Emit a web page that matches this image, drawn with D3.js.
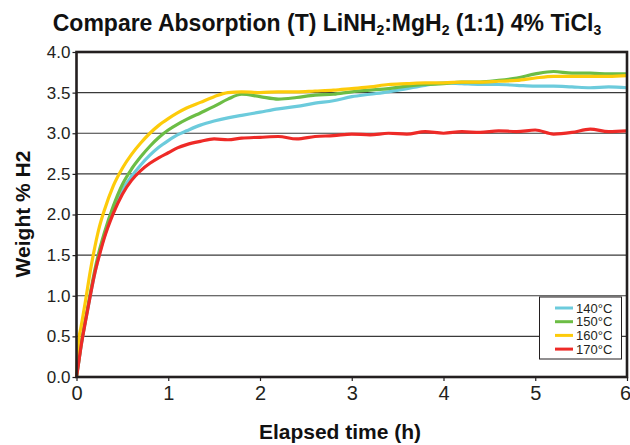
<!DOCTYPE html>
<html>
<head>
<meta charset="utf-8">
<script src="https://cdn.jsdelivr.net/npm/d3@7"></script>
<style>
  body { margin: 0; background: #fff; }
  text { font-family: 'Liberation Sans', Arial, sans-serif; }
</style>
</head>
<body>
<div id="chart"></div>
<script>
// elapsed time (h), shared by all runs
let hours = [0, 0.02, 0.05, 0.1, 0.15, 0.2, 0.25, 0.3, 0.4, 0.5, 0.6, 0.7, 0.8, 0.9, 1.0, 1.1, 1.2, 1.35, 1.5, 1.65, 1.8,
    2.0, 2.2, 2.4, 2.6, 2.8, 3.0, 3.2, 3.4, 3.6, 3.8, 4.0, 4.2, 4.4, 4.6, 4.8, 5.0, 5.2, 5.4, 5.6, 5.8, 6.0]

// weight % H2
let abs140 = [0, 0.15, 0.38, 0.7, 1.0, 1.28, 1.52, 1.72, 2.04, 2.3, 2.47, 2.61, 2.73, 2.83, 2.91, 2.98, 3.03, 3.1, 3.15, 3.19, 3.22,
    3.26, 3.3, 3.33, 3.37, 3.4, 3.45, 3.48, 3.51, 3.55, 3.59, 3.62, 3.61, 3.6, 3.6, 3.59, 3.58, 3.58, 3.57, 3.56, 3.57, 3.56]
let abs150 = [0, 0.16, 0.4, 0.72, 1.03, 1.32, 1.56, 1.76, 2.1, 2.37, 2.56, 2.71, 2.84, 2.95, 3.04, 3.11, 3.17, 3.25, 3.33, 3.42, 3.48,
    3.45, 3.42, 3.44, 3.47, 3.48, 3.51, 3.53, 3.55, 3.58, 3.6, 3.61, 3.63, 3.63, 3.65, 3.68, 3.73, 3.76, 3.74, 3.74, 3.73, 3.73]
let abs160 = [0, 0.42, 0.62, 0.95, 1.3, 1.6, 1.85, 2.04, 2.35, 2.57, 2.74, 2.88, 3.0, 3.1, 3.18, 3.25, 3.31, 3.38, 3.45, 3.5, 3.51,
    3.5, 3.51, 3.51, 3.52, 3.53, 3.55, 3.57, 3.6, 3.61, 3.62, 3.62, 3.63, 3.63, 3.64, 3.65, 3.68, 3.7, 3.7, 3.7, 3.7, 3.71]
let abs170 = [0, 0.15, 0.38, 0.7, 1.0, 1.28, 1.5, 1.7, 2.01, 2.25, 2.42, 2.54, 2.63, 2.7, 2.76, 2.82, 2.86, 2.9, 2.93, 2.92, 2.94,
    2.95, 2.96, 2.93, 2.96, 2.97, 2.99, 2.98, 3.0, 2.99, 3.02, 3.0, 3.02, 3.01, 3.03, 3.02, 3.04, 2.99, 3.01, 3.05, 3.02, 3.03]

let seriesNames = ['140°C', '150°C', '160°C', '170°C']
let seriesColors = ['#6ccbdc', '#6cbd45', '#fdcb0a', '#ee2a27']
let seriesValues = [abs140, abs150, abs160, abs170]

let yTicks = [0, 0.5, 1.0, 1.5, 2.0, 2.5, 3.0, 3.5, 4.0]
let xTicks = [0, 1, 2, 3, 4, 5, 6]

let width = 630,
    height = 445,
    margin = {
        top: 52,
        right: 3,
        bottom: 68,
        left: 76.5
    }

let svg = d3.select('#chart').append('svg')
    .attr('width', width)
    .attr('height', height)

let x = d3.scaleLinear()
    .domain([0, 6])
    .range([margin.left, width - margin.right])

let y = d3.scaleLinear()
    .domain([0, 4])
    .range([height - margin.bottom, margin.top])

// gridlines
svg.append('g')
    .attr('class', 'grid')
    .selectAll('line')
    .data(yTicks.slice(1, -1))
    .enter().append('line')
    .attr('x1', x(0))
    .attr('x2', x(6))
    .attr('y1', d => y(d))
    .attr('y2', d => y(d))
    .attr('stroke', '#3a3a3a')
    .attr('stroke-width', 1.2)

// legend box sits under the curves but over the grid
let legend = svg.append('g').attr('class', 'legend')
legend.append('rect')
    .attr('x', 539.5)
    .attr('y', 297)
    .attr('width', 82)
    .attr('height', 62)
    .attr('fill', '#fff')
    .attr('stroke', '#231f20')
    .attr('stroke-width', 1)

let line = d3.line()
    .x(d => x(d[0]))
    .y(d => y(d[1]))
    .curve(d3.curveMonotoneX)

svg.append('g')
    .attr('class', 'curves')
    .selectAll('path')
    .data(seriesValues)
    .enter().append('path')
    .attr('d', vals => line(vals.map((v, i) => [hours[i], v])))
    .attr('fill', 'none')
    .attr('stroke', (d, i) => seriesColors[i])
    .attr('stroke-width', 3.2)
    .attr('stroke-linejoin', 'round')

let items = legend.selectAll('.item')
    .data(seriesNames)
    .enter().append('g')
    .attr('class', 'item')
    .attr('transform', (d, i) => `translate(555,${308 + i * 13.7})`)

items.append('line')
    .attr('x1', 0)
    .attr('x2', 18)
    .attr('stroke', (d, i) => seriesColors[i])
    .attr('stroke-width', 3)

items.append('text')
    .attr('x', 21)
    .attr('dy', '0.35em')
    .attr('font-size', 13)
    .attr('fill', '#231f20')
    .text(d => d)

// axes
let yAxis = g => g
    .attr('transform', `translate(${margin.left},0)`)
    .call(d3.axisLeft(y).tickValues(yTicks).tickFormat(d3.format('.1f')).tickSize(4).tickPadding(2))
    .call(g => g.select('.domain').remove())
    .call(g => g.selectAll('text').attr('font-size', 17).attr('fill', '#231f20'))
    .call(g => g.selectAll('line').attr('stroke', '#231f20').attr('stroke-width', 1.2))

let xAxis = g => g
    .attr('transform', `translate(0,${height - margin.bottom})`)
    .call(d3.axisBottom(x).tickValues(xTicks).tickFormat(d3.format('d')).tickSize(4).tickPadding(5))
    .call(g => g.select('.domain').remove())
    .call(g => g.selectAll('text').attr('font-size', 20).attr('fill', '#231f20')
        .attr('font-family', "'Liberation Sans Narrow', 'Liberation Sans', sans-serif"))
    .call(g => g.selectAll('line').attr('stroke', '#231f20').attr('stroke-width', 1.2))
    .call(g => g.select('.tick:last-of-type text').attr('dx', -2))

svg.append('g').call(yAxis)
svg.append('g').call(xAxis)

// frame
svg.append('rect')
    .attr('x', x(0))
    .attr('y', y(4))
    .attr('width', x(6) - x(0))
    .attr('height', y(0) - y(4))
    .attr('fill', 'none')
    .attr('stroke', '#231f20')
    .attr('stroke-width', 2.6)

// titles
let title = svg.append('text')
    .attr('x', 327)
    .attr('y', 31)
    .attr('text-anchor', 'middle')
    .attr('font-size', 23)
    .attr('font-weight', 'bold')
    .attr('fill', '#111')

let titleParts = [['Compare Absorption (T) LiNH', false], ['2', true], [':MgH', false], ['2', true],
    [' (1:1) 4% TiCl', false], ['3', true]]
titleParts.forEach((p, i) => {
    title.append('tspan')
        .attr('font-size', p[1] ? 14 : 23)
        .attr('dy', p[1] ? 4 : (i ? -4 : 0))
        .text(p[0])
})

svg.append('text')
    .attr('x', 340)
    .attr('y', 439)
    .attr('text-anchor', 'middle')
    .attr('font-size', 21)
    .attr('font-weight', 'bold')
    .attr('fill', '#111')
    .text('Elapsed time (h)')

svg.append('text')
    .attr('transform', 'translate(30,214) rotate(-90)')
    .attr('text-anchor', 'middle')
    .attr('font-size', 21)
    .attr('font-weight', 'bold')
    .attr('fill', '#111')
    .text('Weight % H2')
</script>
</body>
</html>
